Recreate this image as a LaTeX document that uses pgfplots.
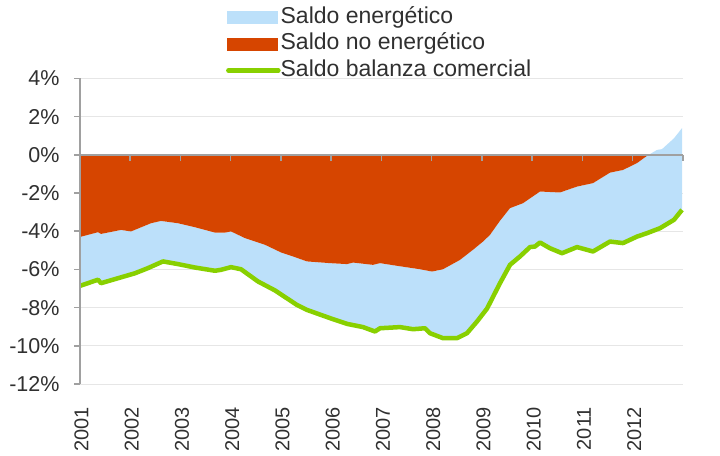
\documentclass[border=0pt]{standalone}
\usepackage{fontspec}
\setmainfont{Liberation Sans}
\usepackage{pgfplots}
\pgfplotsset{compat=1.18}
\usepgfplotslibrary{fillbetween}
\definecolor{cblue}{HTML}{BCE0FA}
\definecolor{corange}{HTML}{D64500}
\definecolor{cgreen}{HTML}{88D000}
\definecolor{caxis}{HTML}{A0A0A0}
\definecolor{cgrid}{HTML}{E6E6E6}
\definecolor{ctext}{HTML}{303030}
\newcommand\ytickfont{\fontsize{21.5bp}{25bp}\selectfont}
\newcommand\xtickfont{\fontsize{20bp}{24bp}\selectfont}
\newcommand\legfont{\fontsize{23bp}{27bp}\selectfont}

\pgfplotstableread{
x y
2001.000 -4.30
2001.358 -4.05
2001.418 -4.14
2001.816 -3.93
2002.015 -4.01
2002.413 -3.58
2002.612 -3.46
2002.950 -3.58
2003.289 -3.79
2003.687 -4.07
2003.886 -4.07
2004.005 -4.01
2004.284 -4.36
2004.682 -4.71
2005.000 -5.11
2005.239 -5.32
2005.517 -5.58
2005.975 -5.67
2006.313 -5.72
2006.433 -5.64
2006.831 -5.76
2006.970 -5.67
2007.308 -5.81
2007.766 -5.99
2008.005 -6.11
2008.224 -5.99
2008.562 -5.50
2008.821 -4.97
2009.020 -4.54
2009.159 -4.19
2009.358 -3.45
2009.557 -2.79
2009.816 -2.53
2010.154 -1.92
2010.552 -1.97
2010.891 -1.66
2011.209 -1.48
2011.547 -0.93
2011.806 -0.79
2012.085 -0.43
2012.284 -0.05
2012.483 0.26
2012.582 0.30
2012.821 0.87
2012.980 1.40
}\noenerg

\pgfplotstableread{
x y
2001.000 0
2001.000 -4.30
2001.358 -4.05
2001.418 -4.14
2001.816 -3.93
2002.015 -4.01
2002.413 -3.58
2002.612 -3.46
2002.950 -3.58
2003.289 -3.79
2003.687 -4.07
2003.886 -4.07
2004.005 -4.01
2004.284 -4.36
2004.682 -4.71
2005.000 -5.11
2005.239 -5.32
2005.517 -5.58
2005.975 -5.67
2006.313 -5.72
2006.433 -5.64
2006.831 -5.76
2006.970 -5.67
2007.308 -5.81
2007.766 -5.99
2008.005 -6.11
2008.224 -5.99
2008.562 -5.50
2008.821 -4.97
2009.020 -4.54
2009.159 -4.19
2009.358 -3.45
2009.557 -2.79
2009.816 -2.53
2010.154 -1.92
2010.552 -1.97
2010.891 -1.66
2011.209 -1.48
2011.547 -0.93
2011.806 -0.79
2012.085 -0.43
2012.284 -0.05
2012.300 0
}\noenergneg

\pgfplotstableread{
x y
2001.000 -6.86
2001.358 -6.54
2001.418 -6.72
2002.095 -6.20
2002.353 -5.93
2002.652 -5.58
2002.950 -5.72
2003.289 -5.90
2003.687 -6.07
2003.806 -6.02
2004.005 -5.88
2004.204 -5.99
2004.542 -6.63
2004.881 -7.10
2005.139 -7.55
2005.312 -7.85
2005.517 -8.12
2005.975 -8.55
2006.313 -8.85
2006.632 -9.02
2006.871 -9.25
2006.970 -9.08
2007.368 -9.02
2007.627 -9.13
2007.866 -9.08
2007.965 -9.34
2008.224 -9.60
2008.502 -9.60
2008.701 -9.34
2008.900 -8.73
2009.100 -8.05
2009.358 -6.72
2009.557 -5.76
2009.756 -5.32
2009.955 -4.83
2010.055 -4.80
2010.154 -4.59
2010.353 -4.89
2010.592 -5.15
2010.891 -4.83
2011.209 -5.06
2011.547 -4.54
2011.806 -4.62
2012.085 -4.28
2012.284 -4.10
2012.542 -3.84
2012.821 -3.40
2012.980 -2.88
}\total

\begin{document}
\begin{tikzpicture}
% data axis: grid + areas + line + legend
\begin{axis}[
  scale only axis, width=603bp, height=305.5bp,
  at={(0,0)}, anchor=south west,
  xmin=2001, xmax=2013, ymin=-12, ymax=4,
  axis line style={draw=none},
  xtick=\empty,
  ytick={-12,-10,...,4}, yticklabels={},
  major tick length=0pt,
  ymajorgrids, grid style={cgrid, line width=1bp},
  clip=false,
  legend style={at={(0.242,1.2367)}, anchor=north west, draw=none, fill=none,
    inner sep=0pt, row sep=4.5bp, column sep=0bp, font=\legfont, text=ctext,
    nodes={inner sep=0pt, text height=17bp, text depth=5bp}},
  legend cell align=left,
]
\addlegendimage{legend image code/.code={\fill[cblue] (0bp,-6bp) rectangle (50bp,6bp);}}
\addlegendentry{Saldo energético}
\addlegendimage{legend image code/.code={\fill[corange] (0bp,-6bp) rectangle (50bp,6bp);}}
\addlegendentry{Saldo no energético}
\addlegendimage{legend image code/.code={\draw[cgreen, line width=4.5bp, line cap=round] (1bp,0bp) -- (51bp,0bp);}}
\addlegendentry{Saldo balanza comercial}
\addplot[name path=ne, draw=none, forget plot] table {\noenerg};
\addplot[name path=tot, draw=none, forget plot] table {\total};
\addplot[cblue, forget plot] fill between[of=ne and tot];
\addplot[fill=corange, draw=none, forget plot] table {\noenergneg} -- cycle;
\addplot[cgreen, line width=4.5bp, line join=round, forget plot] table {\total};
\end{axis}
% axis lines, ticks and y labels on top
\begin{axis}[
  scale only axis, width=603bp, height=305.5bp,
  at={(0,0)}, anchor=south west,
  xmin=2001, xmax=2013, ymin=-12, ymax=4,
  axis x line=middle, axis y line=left,
  x axis line style={caxis, line width=1.5bp, -},
  y axis line style={caxis, line width=1.5bp, -},
  xtick={2001,...,2013}, xticklabels={},
  xtick align=outside,
  xtick style={caxis, line width=1.5bp},
  ytick={-12,-10,...,4},
  yticklabels={-12\%,-10\%,-8\%,-6\%,-4\%,-2\%,0\%,2\%,4\%},
  ytick align=outside,
  ytick style={caxis, line width=1.5bp},
  major tick length=6bp,
  yticklabel style={font=\ytickfont, text=ctext, xshift=-11bp},
]
\addplot[draw=none, forget plot] coordinates {(2001,-12) (2013,4)};
\end{axis}
% year labels at the bottom
\begin{axis}[
  scale only axis, width=603bp, height=305.5bp,
  at={(0,0)}, anchor=south west,
  xmin=2001, xmax=2013, ymin=-12, ymax=4,
  hide y axis, axis x line=bottom,
  x axis line style={draw=none},
  xtick={2001,...,2012},
  xticklabels={2001,2002,2003,2004,2005,2006,2007,2008,2009,2010,2011,2012},
  major tick length=0pt, xtick style={draw=none},
  xticklabel style={rotate=90, anchor=east, font=\xtickfont, text=ctext, inner xsep=23bp, yshift=-1.5bp},
]
\addplot[draw=none, forget plot] coordinates {(2001,-12) (2013,4)};
\end{axis}
\pgfresetboundingbox
\useasboundingbox (-80bp,-72bp) rectangle (640bp,384bp);
\end{tikzpicture}
\end{document}
